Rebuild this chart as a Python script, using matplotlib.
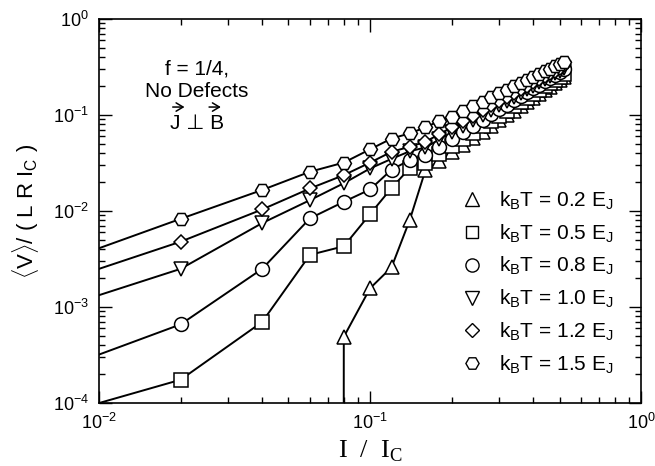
import matplotlib
matplotlib.use("Agg")
import matplotlib.pyplot as plt
from matplotlib.lines import Line2D
from matplotlib.patches import FancyArrowPatch
import numpy as np

plt.rcParams['font.family'] = ['Liberation Sans', 'DejaVu Sans']
plt.rcParams['mathtext.fontset'] = 'custom'
plt.rcParams['mathtext.rm'] = 'Liberation Sans'
plt.rcParams['mathtext.it'] = 'Liberation Sans:italic'

# ---- data ----
x_low = [0.01, 0.02, 0.04, 0.06, 0.08, 0.10, 0.12, 0.14]
x_high = [0.16, 0.18, 0.20, 0.22, 0.24, 0.26, 0.28, 0.30, 0.32, 0.34,
          0.36, 0.38, 0.40, 0.42, 0.44, 0.46, 0.48, 0.50, 0.52]

hex_low = [0.0041, 0.0083, 0.0166, 0.0257, 0.032, 0.044, 0.057, 0.0645]
hex_high = [0.0745, 0.087, 0.096, 0.1095, 0.1235, 0.138, 0.153, 0.168, 0.184, 0.200,
            0.216, 0.233, 0.250, 0.267, 0.285, 0.303, 0.321, 0.340, 0.359]

dia_low = [0.0025, 0.0048, 0.0104, 0.0172, 0.0237, 0.032, 0.0415, 0.0468]
dia_high = [0.0527, 0.0633, 0.0746, 0.0865, 0.099, 0.1122, 0.1259, 0.1401, 0.155, 0.1703,
            0.1861, 0.2025, 0.2193, 0.2366, 0.2543, 0.2726, 0.2912, 0.3103, 0.330]

dn_low = [0.00133, 0.0025, 0.0075, 0.013, 0.0195, 0.0278, 0.035, 0.042]
dn_high = [0.046, 0.0557, 0.066, 0.077, 0.0887, 0.1009, 0.1138, 0.1272, 0.1412, 0.1558,
           0.1709, 0.1866, 0.2027, 0.2194, 0.2365, 0.2542, 0.2723, 0.291, 0.310]

cir_low = [0.00032, 0.00066, 0.0025, 0.0084, 0.0125, 0.0168, 0.027, 0.034]
cir_high = [0.0383, 0.047, 0.0566, 0.0668, 0.0778, 0.0894, 0.1018, 0.1148, 0.1285, 0.1429,
            0.1579, 0.1735, 0.1897, 0.2066, 0.2241, 0.2422, 0.2608, 0.2802, 0.300]

sq_low = [0.0001, 0.000175, 0.0007, 0.0035, 0.0043, 0.0093, 0.0174, 0.028]
sq_high = [0.0314, 0.0389, 0.0472, 0.0562, 0.0658, 0.0762, 0.0872, 0.0989, 0.1113, 0.1243,
           0.138, 0.1523, 0.1673, 0.1828, 0.199, 0.2159, 0.2333, 0.2514, 0.270]

tri_x_low = [0.0799, 0.08, 0.10, 0.12, 0.14]
tri_low = [1e-6, 0.00049, 0.00157, 0.0026, 0.00805]
tri_high = [0.0267, 0.0334, 0.0408, 0.0489, 0.0576, 0.0671, 0.0772, 0.088, 0.0995, 0.1116,
            0.1244, 0.1379, 0.1519, 0.1667, 0.182, 0.1981, 0.2147, 0.232, 0.250]

labels = [r"k$_\mathregular{B}$T = 0.2 E$_\mathregular{J}$",
          r"k$_\mathregular{B}$T = 0.5 E$_\mathregular{J}$",
          r"k$_\mathregular{B}$T = 0.8 E$_\mathregular{J}$",
          r"k$_\mathregular{B}$T = 1.0 E$_\mathregular{J}$",
          r"k$_\mathregular{B}$T = 1.2 E$_\mathregular{J}$",
          r"k$_\mathregular{B}$T = 1.5 E$_\mathregular{J}$"]
markers = ['^', 's', 'o', 'v', 'D', 'H']
msizes = [10, 9.5, 10, 10, 7.5, 10]

series = [
    (tri_x_low + x_high, tri_low + tri_high),
    (x_low + x_high, sq_low + sq_high),
    (x_low + x_high, cir_low + cir_high),
    (x_low + x_high, dn_low + dn_high),
    (x_low + x_high, dia_low + dia_high),
    (x_low + x_high, hex_low + hex_high),
]

fig = plt.figure(figsize=(6.55, 4.66), dpi=100)
ax = fig.add_axes([0.151, 0.135, 0.828, 0.824])

for (xs, ys), m, ms in zip(series, markers, msizes):
    ax.plot(xs, ys, '-', color='black', lw=1.4, zorder=2)
    ax.plot(xs[1:], ys[1:], linestyle='none', marker=m, ms=ms, mfc='white',
            mec='black', mew=1.1, zorder=3)

ax.set_xscale('log')
ax.set_yscale('log')
ax.set_xlim(0.01, 1.0)
ax.set_ylim(1e-4, 1.0)

for s in ax.spines.values():
    s.set_linewidth(1.2)
ax.tick_params(which='both', direction='in', top=True, right=True, labelsize=13, width=1.0)
ax.tick_params(which='major', length=9, pad=7)
ax.tick_params(which='minor', length=4.5)

ax.set_xlabel(r"I  /  I$_\mathregular{C}$", family='Liberation Serif', fontsize=19, labelpad=4)
ax.set_ylabel(r"$\langle$V$\rangle$/ ( L R I$_\mathregular{C}$ )", fontsize=16, labelpad=9)

# annotation
fs_a = 15
ax.text(0.181, 0.869, "f = 1/4,", transform=ax.transAxes, ha='center', va='center', fontsize=fs_a)
ax.text(0.181, 0.8125, "No Defects", transform=ax.transAxes, ha='center', va='center', fontsize=fs_a)
ax.text(0.181, 0.729, "J ⊥ B", transform=ax.transAxes, ha='center', va='center', fontsize=fs_a,
        family=['Liberation Sans', 'DejaVu Sans'])
for xc in (0.147, 0.214):
    ax.add_patch(FancyArrowPatch((xc - 0.016, 0.771), (xc + 0.016, 0.771),
                                 transform=ax.transAxes, arrowstyle='->,head_length=5,head_width=3',
                                 lw=1.1, color='black', mutation_scale=1))

handles = [Line2D([], [], linestyle='none', marker=m, ms=ms * 0.95, mfc='white',
                  mec='black', mew=1.0) for m, ms in zip(markers, msizes)]
ax.legend(handles, labels, loc='lower right', bbox_to_anchor=(0.965, 0.05), frameon=False,
          fontsize=15, labelspacing=0.5, handletextpad=0.8, handlelength=1.0,
          borderaxespad=0.0)

fig.savefig("out.png", dpi=100)
